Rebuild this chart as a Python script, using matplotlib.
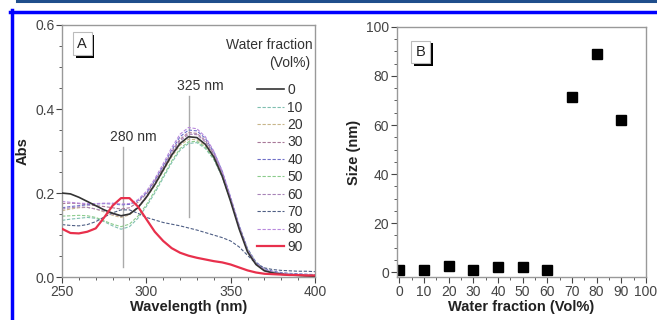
import matplotlib.pyplot as plt
import matplotlib.patheffects as pe
from matplotlib.lines import Line2D
from matplotlib.ticker import MultipleLocator

plt.rcParams['font.family'] = ['Liberation Sans', 'DejaVu Sans']

# ---- panel A: absorption spectra ----
wavelength = list(range(250, 401, 5))
fractions = ['0', '10', '20', '30', '40', '50', '60', '70', '80', '90']

abs_0 = [0.200, 0.198, 0.190, 0.180, 0.170, 0.160, 0.152, 0.146, 0.150, 0.165, 0.190,
         0.220, 0.255, 0.290, 0.318, 0.334, 0.332, 0.316, 0.286, 0.240, 0.180, 0.115,
         0.060, 0.030, 0.015, 0.010, 0.007, 0.005, 0.004, 0.003, 0.002]
abs_10 = [0.135, 0.138, 0.140, 0.142, 0.140, 0.132, 0.122, 0.114, 0.120, 0.140, 0.168,
          0.200, 0.236, 0.272, 0.302, 0.318, 0.320, 0.306, 0.280, 0.238, 0.182, 0.120,
          0.066, 0.034, 0.018, 0.012, 0.009, 0.007, 0.006, 0.005, 0.004]
abs_20 = [0.158, 0.162, 0.165, 0.166, 0.162, 0.155, 0.147, 0.142, 0.148, 0.165, 0.188,
          0.218, 0.252, 0.286, 0.314, 0.328, 0.327, 0.312, 0.284, 0.240, 0.182, 0.118,
          0.062, 0.031, 0.016, 0.010, 0.007, 0.005, 0.004, 0.003, 0.003]
abs_30 = [0.175, 0.176, 0.175, 0.172, 0.170, 0.168, 0.165, 0.162, 0.165, 0.178, 0.198,
          0.228, 0.262, 0.298, 0.328, 0.344, 0.342, 0.325, 0.294, 0.248, 0.186, 0.120,
          0.064, 0.032, 0.017, 0.011, 0.008, 0.006, 0.005, 0.004, 0.003]
abs_40 = [0.165, 0.168, 0.170, 0.172, 0.174, 0.175, 0.174, 0.172, 0.173, 0.182, 0.200,
          0.230, 0.265, 0.302, 0.334, 0.350, 0.348, 0.330, 0.298, 0.252, 0.190, 0.124,
          0.068, 0.036, 0.020, 0.014, 0.011, 0.009, 0.008, 0.007, 0.006]
abs_50 = [0.145, 0.146, 0.147, 0.146, 0.142, 0.134, 0.126, 0.120, 0.126, 0.145, 0.172,
          0.205, 0.240, 0.276, 0.306, 0.322, 0.323, 0.309, 0.282, 0.240, 0.184, 0.121,
          0.066, 0.034, 0.018, 0.012, 0.009, 0.007, 0.006, 0.005, 0.004]
abs_60 = [0.162, 0.165, 0.167, 0.166, 0.162, 0.157, 0.150, 0.145, 0.150, 0.167, 0.192,
          0.224, 0.258, 0.294, 0.324, 0.340, 0.339, 0.322, 0.292, 0.246, 0.186, 0.120,
          0.063, 0.032, 0.016, 0.010, 0.007, 0.006, 0.005, 0.004, 0.003]
abs_70 = [0.125, 0.123, 0.122, 0.125, 0.132, 0.143, 0.153, 0.160, 0.160, 0.152, 0.142,
          0.136, 0.130, 0.126, 0.122, 0.117, 0.112, 0.106, 0.100, 0.094, 0.086, 0.072,
          0.052, 0.032, 0.022, 0.018, 0.016, 0.015, 0.014, 0.014, 0.013]
abs_80 = [0.180, 0.178, 0.176, 0.175, 0.175, 0.176, 0.176, 0.174, 0.175, 0.184, 0.204,
          0.234, 0.270, 0.308, 0.340, 0.356, 0.353, 0.334, 0.300, 0.252, 0.188, 0.121,
          0.064, 0.033, 0.018, 0.012, 0.009, 0.007, 0.006, 0.005, 0.004]
abs_90 = [0.115, 0.105, 0.104, 0.108, 0.116, 0.142, 0.170, 0.188, 0.188, 0.168, 0.138,
          0.108, 0.086, 0.069, 0.058, 0.051, 0.046, 0.042, 0.038, 0.035, 0.030, 0.023,
          0.016, 0.011, 0.008, 0.007, 0.006, 0.005, 0.005, 0.004, 0.004]

spectra = [abs_0, abs_10, abs_20, abs_30, abs_40, abs_50, abs_60, abs_70, abs_80, abs_90]
colors = ['#333333', '#7fbfb0', '#c8b68a', '#a87898', '#6f6fc8', '#8ccc8c',
          '#a884b8', '#4f5f85', '#b888dd', '#e8304c']

# ---- panel B: particle size ----
water_fraction = [0, 10, 20, 30, 40, 50, 60, 70, 80, 90]
size_nm = [1.0, 1.0, 2.5, 1.0, 2.2, 2.0, 1.0, 71.5, 89.0, 62.0]

fig = plt.figure(figsize=(6.57, 3.2), dpi=100)
ax1 = fig.add_axes([0.0944, 0.134, 0.385, 0.788])
ax2 = fig.add_axes([0.604, 0.134, 0.379, 0.782])

tick_col = '#444444'
spine_col = '#999999'


def style_axes(ax):
    for s in ax.spines.values():
        s.set_color(spine_col)
        s.set_linewidth(1.0)
    ax.tick_params(which='both', direction='out', colors=tick_col, labelsize=10,
                   top=False, right=False)
    ax.tick_params(which='major', length=4, width=0.8, pad=1.5)
    ax.tick_params(which='minor', length=2, width=0.6)


def panel_tag(ax, x, y, letter):
    t = ax.text(x, y, letter, transform=ax.transAxes, ha='center', va='center',
                fontsize=10.5, color='#222222',
                bbox=dict(boxstyle='square,pad=0.3', fc='white', ec='#bbbbbb', lw=0.8))
    t.get_bbox_patch().set_path_effects([
        pe.SimplePatchShadow(offset=(2, -2), shadow_rgbFace='black', alpha=1.0),
        pe.Normal()])


# panel A
for i in range(len(spectra)):
    if fractions[i] == '0':
        ax1.plot(wavelength, spectra[i], color=colors[i], lw=1.2, label=fractions[i], zorder=3)
    elif fractions[i] == '90':
        ax1.plot(wavelength, spectra[i], color=colors[i], lw=1.6, label=fractions[i], zorder=4)
    else:
        ax1.plot(wavelength, spectra[i], color=colors[i], lw=0.8, ls=(0, (3, 1.5)),
                 label=fractions[i], zorder=2)

ax1.axvline(286, ymin=0.04, ymax=0.515, color='#aaaaaa', lw=1.0, zorder=1)
ax1.axvline(325.5, ymin=0.238, ymax=0.717, color='#aaaaaa', lw=1.0, zorder=1)
ax1.text(292, 0.333, '280 nm', ha='center', va='center', fontsize=10, color='#333333')
ax1.text(332, 0.454, '325 nm', ha='center', va='center', fontsize=10, color='#333333')

ax1.set_xlim(250, 400)
ax1.set_ylim(0, 0.6)
ax1.xaxis.set_major_locator(MultipleLocator(50))
ax1.xaxis.set_minor_locator(MultipleLocator(10))
ax1.yaxis.set_major_locator(MultipleLocator(0.2))
ax1.yaxis.set_minor_locator(MultipleLocator(0.05))
ax1.yaxis.set_major_formatter(lambda v, p: f'{v:.1f}')
style_axes(ax1)
ax1.set_xlabel('Wavelength (nm)', fontsize=10.5, fontweight='bold', color='#222222', labelpad=1)
ax1.set_ylabel('Abs', fontsize=10.5, fontweight='bold', color='#222222', labelpad=4)

ax1.text(0.99, 0.921, 'Water fraction', transform=ax1.transAxes, ha='right', va='center',
         fontsize=10, color='#333333')
ax1.text(0.98, 0.849, '(Vol%)', transform=ax1.transAxes, ha='right', va='center',
         fontsize=10, color='#333333')
leg = ax1.legend(loc='upper right', bbox_to_anchor=(0.963, 0.78), frameon=False,
                 fontsize=10, handlelength=2.0, handletextpad=0.2,
                 labelspacing=0.245, borderpad=0.2, borderaxespad=0)
for txt in leg.get_texts():
    txt.set_color('#333333')
panel_tag(ax1, 0.08, 0.925, 'A')

# panel B
ax2.plot(water_fraction, size_nm, 's', color='black', markersize=6.5, ls='none')
ax2.set_xlim(-1, 100)
ax2.set_ylim(-2, 100)
ax2.xaxis.set_major_locator(MultipleLocator(10))
ax2.xaxis.set_minor_locator(MultipleLocator(5))
ax2.yaxis.set_major_locator(MultipleLocator(20))
ax2.yaxis.set_minor_locator(MultipleLocator(5))
style_axes(ax2)
ax2.set_xlabel('Water fraction (Vol%)', fontsize=10.5, fontweight='bold', color='#222222', labelpad=1)
ax2.set_ylabel('Size (nm)', fontsize=10.5, fontweight='bold', color='#222222', labelpad=4)
panel_tag(ax2, 0.096, 0.9, 'B')

# page frame lines
H = 320.0
W = 657.0
fig.add_artist(Line2D([17 / W, 1], [1 - 1 / H, 1 - 1 / H], color='#1f4e8c', lw=2.2))
fig.add_artist(Line2D([10 / W, 1], [1 - 11.5 / H, 1 - 11.5 / H], color='#0000ff', lw=2.5))
fig.add_artist(Line2D([11.5 / W, 11.5 / W], [0, 1 - 10 / H], color='#0000ff', lw=2.5))

fig.savefig('out.png', dpi=100)
